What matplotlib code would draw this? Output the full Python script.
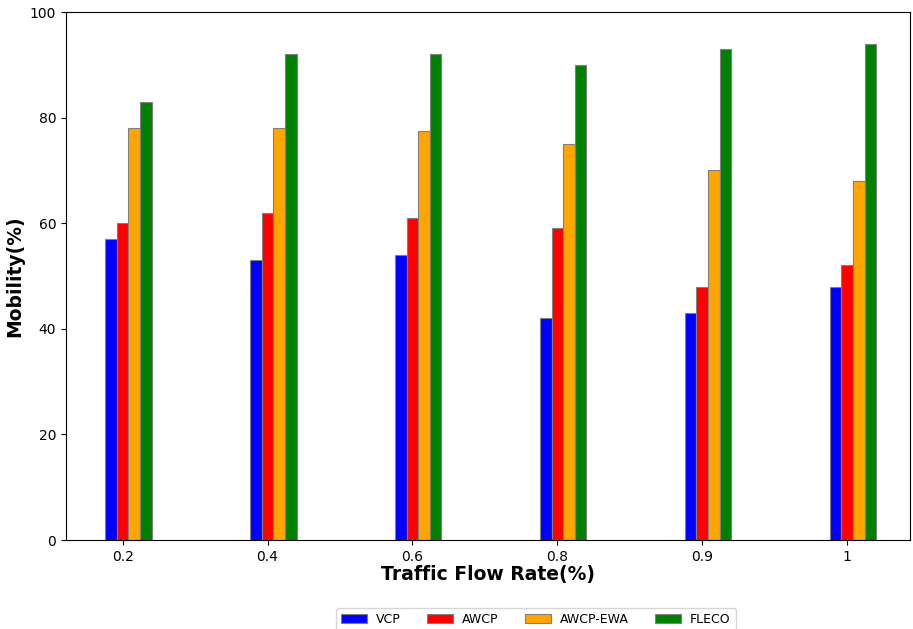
import matplotlib
matplotlib.use("Agg")
import matplotlib.pyplot as plt
import numpy as np

categories = ["0.2", "0.4", "0.6", "0.8", "0.9", "1"]
vcp = [57, 53, 54, 42, 43, 48]
awcp = [60, 62, 61, 59, 48, 52]
awcp_ewa = [78, 78, 77.5, 75, 70, 68]
fleco = [83, 92, 92, 90, 93, 94]

series = [("VCP", vcp, "blue"), ("AWCP", awcp, "red"),
          ("AWCP-EWA", awcp_ewa, "orange"), ("FLECO", fleco, "green")]

fig = plt.figure(figsize=(9.13, 6.29), dpi=100)
ax = fig.add_axes([66/913, 89/629, 844/913, 528/629])

x = np.arange(len(categories))
w = 0.08
offsets = [-1, 0, 1, 2]
handles = []
for (name, vals, col), off in zip(series, offsets):
    b = ax.bar(x + off*w, vals, width=w, color=col, edgecolor="grey", linewidth=0.8, label=name)
    handles.append(b)

ax.set_xticks(x)
ax.set_xticklabels(categories)
ax.set_xlim(-0.391, 5.434)
ax.set_ylim(0, 100)
ax.set_yticks([0, 20, 40, 60, 80, 100])
ax.tick_params(labelsize=10)
ax.set_xlabel("Traffic Flow Rate(%)", fontsize=13.5, fontweight="bold", labelpad=1)
ax.set_ylabel("Mobility(%)", fontsize=13.5, fontweight="bold")

fig.legend(handles=handles, loc="upper center", bbox_to_anchor=(0.587, 0.043), ncol=4,
           fontsize=9, handlelength=2.1, handletextpad=0.7, columnspacing=2.1, frameon=True)

fig.savefig("out.png", dpi=100)
